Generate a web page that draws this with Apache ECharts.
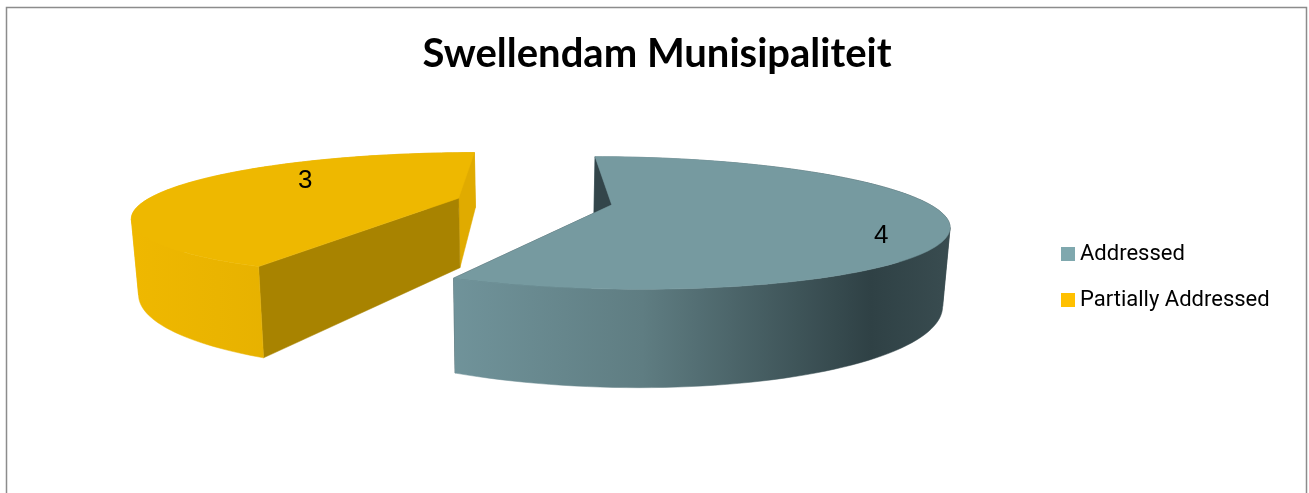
<!DOCTYPE html>
<html>
<head>
<meta charset="utf-8">
<style>html,body{margin:0;padding:0;background:#fff}#c{width:1309px;height:493px}</style>
<script src="https://cdn.jsdelivr.net/npm/echarts@6/dist/echarts.min.js"></script>
</head>
<body>
<div id="c"></div>
<script>
const chartTitle = 'Swellendam Munisipaliteit';
const categories = ['Addressed', 'Partially Addressed'];
const values = [4, 3];
const legendColors = ['#7fa8ae', '#ffc000'];

const total = values.reduce((a, b) => a + b, 0);
// projection of the tilted, exploded pie
const VX = 534, Y0 = 201.5, A = 314, B = 59.5, K = 0.269, DEPTH = 70.5, SHRINK = 0.982, EXPLODE = 0.25;

function project(X, Y) {
  const s = 1 / (1 - K * Y);
  return { x: VX + A * X * s, y: Y0 + B * Y * s, s };
}
function lower(p) {
  return [VX + (p.x - VX) * SHRINK, p.y + DEPTH * p.s];
}
function sliceGeometry(i) {
  let before = 0;
  for (let j = 0; j < i; j++) before += values[j];
  const a0 = before / total * Math.PI * 2;
  const a1 = (before + values[i]) / total * Math.PI * 2;
  const mid = (a0 + a1) / 2;
  const ox = Math.sin(mid) * EXPLODE, oy = -Math.cos(mid) * EXPLODE;
  const at = (ang, r) => project(ox + Math.sin(ang) * r, oy - Math.cos(ang) * r);
  const rim = [];
  const n = 120;
  for (let k = 0; k <= n; k++) rim.push(at(a0 + (a1 - a0) * k / n, 1));
  return { apex: at(0, 0), rim, mid, at };
}
const xy = p => [p.x, p.y];
const poly = (points, fill) => ({ type: 'polygon', shape: { points }, style: { fill, stroke: fill, lineWidth: 0.5 } });

const looks = [
  { top: '#769aa0', cutFirst: '#33454a', cutLast: '#33454a',
    wall: [[0, '#70939a'], [0.38, '#5f7d82'], [0.84, '#2f4145'], [1, '#394c50']],
    label: { r: 0.815, dy: 19, dx: -1 } },
  { top: '#eeb800', cutFirst: '#a88300', cutLast: '#e0ab00',
    wall: [[0, '#efb800'], [1, '#dba800']],
    label: { r: 0.5, dy: -11, dx: -9 } }
];

function renderSlice(i) {
  const g = sliceGeometry(i), look = looks[i];
  const rim = g.rim, apex = g.apex, first = rim[0], last = rim[rim.length - 1];
  const top = [xy(apex)].concat(rim.map(xy));
  // the wall is split at the outermost rim point so that its two parts never cancel out
  let edge = 0;
  rim.forEach((p, k) => { if (Math.abs(p.x - apex.x) > Math.abs(rim[edge].x - apex.x)) edge = k; });
  const band = part => part.map(xy).concat(part.slice().reverse().map(lower));
  const xs = rim.map(p => p.x);
  const grad = new echarts.graphic.LinearGradient(Math.min.apply(null, xs), 0, Math.max.apply(null, xs), 0,
    look.wall.map(s => ({ offset: s[0], color: s[1] })), true);
  const partA = rim.slice(0, edge + 1), partB = rim.slice(edge);
  const nearFirst = first.y > last.y;
  const near = nearFirst ? partA : partB, far = nearFirst ? partB : partA;
  const lp = g.at(g.mid, look.label.r);
  return {
    type: 'group',
    children: [
      poly(band(far), grad),
      poly([xy(apex), xy(last), lower(last), lower(apex)], look.cutLast),
      poly([xy(apex), xy(first), lower(first), lower(apex)], look.cutFirst),
      poly(band(near), grad),
      poly(top, look.top),
      { type: 'text', style: { x: lp.x + look.label.dx, y: lp.y + look.label.dy, text: String(values[i]), fill: '#000',
        font: '26px "Liberation Sans"', align: 'center', verticalAlign: 'middle' } }
    ]
  };
}

const chart = echarts.init(document.getElementById('c'), null, { renderer: 'canvas' });
chart.setOption({
  animation: false,
  backgroundColor: '#fff',
  title: {
    text: chartTitle, left: 652, top: 29, textAlign: 'center',
    textStyle: { fontFamily: 'Lato', fontWeight: 'bold', fontSize: 40, color: '#000' }
  },
  legend: {
    data: categories, orient: 'vertical', left: 1056, top: 238, icon: 'rect',
    itemWidth: 14, itemHeight: 14, itemGap: 24,
    textStyle: { fontFamily: 'Roboto', fontSize: 22, color: '#000', padding: [0, 0, 0, 0] }
  },
  graphic: [{ type: 'rect', silent: true, shape: { x: 6.5, y: 7.5, width: 1300, height: 490 },
    style: { fill: 'none', stroke: '#8c8c8c', lineWidth: 1.5 } }],
  series: categories.map((name, i) => ({
    type: 'custom', name, coordinateSystem: 'none',
    itemStyle: { color: legendColors[i] },
    data: [values[i]],
    renderItem: () => renderSlice(i)
  }))
});
</script>
</body>
</html>
